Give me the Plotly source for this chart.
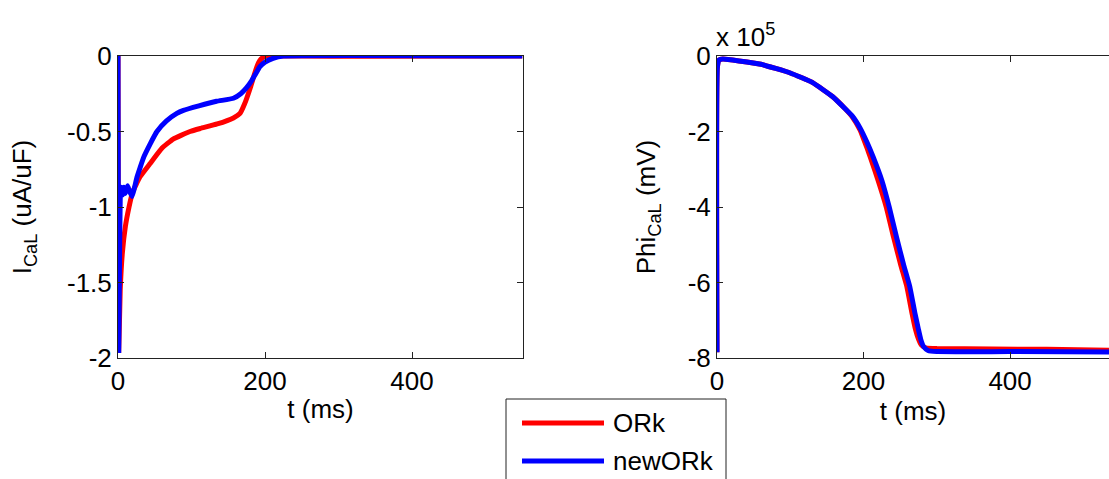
import plotly.graph_objects as go

# ---- L-type calcium current I_CaL (uA/uF) ----
t_ical_ork = [0, 1, 3, 6, 10, 15, 20, 30, 44, 60, 75, 98, 112, 135, 157, 166, 172, 180, 185, 189, 193, 197, 202, 210, 250, 330, 550]
ical_ork = [0, -1.95, -1.55, -1.3, -1.13, -1.0, -0.9, -0.8, -0.71, -0.61, -0.55, -0.5, -0.48, -0.45, -0.41, -0.38, -0.32, -0.21, -0.13, -0.07, -0.03, -0.01, 0, 0, 0, -0.002, 0]

t_ical_new = [0, 1, 2, 3, 4, 6, 8, 10, 13, 16, 19, 22, 26, 30, 35, 44, 53, 66, 80, 89, 110, 134, 157, 167, 175, 181, 187, 193, 200, 211, 225, 550]
ical_new = [0, -1.95, -1.4, -0.95, -0.87, -0.92, -0.87, -0.91, -0.86, -0.9, -0.93, -0.88, -0.8, -0.74, -0.67, -0.58, -0.5, -0.43, -0.38, -0.36, -0.33, -0.3, -0.28, -0.25, -0.21, -0.17, -0.12, -0.07, -0.04, -0.015, 0, 0]

# ---- Phi_CaL (units of 1e5 mV) ----
t_phi_ork = [0, 0.5, 3, 8, 30, 60, 100, 130, 158, 175, 185, 195, 205, 209, 220, 231, 241, 251, 259, 266, 271, 275, 279, 285, 300, 450, 550]
phi_ork_e5 = [-7.85, -0.3, -0.1, -0.08, -0.13, -0.22, -0.45, -0.7, -1.08, -1.4, -1.62, -1.95, -2.45, -2.67, -3.3, -4.0, -4.8, -5.55, -6.1, -6.8, -7.25, -7.5, -7.66, -7.73, -7.75, -7.77, -7.8]

t_phi_new = [0, 0.5, 3, 8, 30, 60, 100, 130, 158, 175, 185, 195, 205, 213, 225, 235, 245, 255, 263, 270, 275, 278, 282, 288, 300, 400, 550]
phi_new_e5 = [-7.85, -0.3, -0.1, -0.08, -0.13, -0.22, -0.45, -0.7, -1.08, -1.4, -1.6, -1.9, -2.3, -2.67, -3.3, -4.0, -4.8, -5.55, -6.1, -6.8, -7.25, -7.5, -7.7, -7.8, -7.83, -7.83, -7.84]

series_names = ["ORk", "newORk"]
series_colors = ["#ff0000", "#0000ff"]

ical_ticks = [-2, -1.5, -1, -0.5, 0]
ical_ticktext = ["-2", "-1.5", "-1", "-0.5", "0"]
phi_ticks_e5 = [-8, -6, -4, -2, 0]
phi_ticktext = ["-8", "-6", "-4", "-2", "0"]
t_ticks = [0, 200, 400]

W, H = 1109, 479
FONT = "Arial, Liberation Sans, sans-serif"
FS = 26
LW = 5


def curve(x, y, i, xa, ya):
    return go.Scatter(x=x, y=y, mode="lines", name=series_names[i],
                      line=dict(color=series_colors[i], width=LW, shape="spline", smoothing=0.4),
                      xaxis=xa, yaxis=ya, showlegend=False)


fig = go.Figure()
fig.add_trace(curve(t_ical_ork, ical_ork, 0, "x", "y"))
fig.add_trace(curve(t_ical_new, ical_new, 1, "x", "y"))
fig.add_trace(curve(t_phi_ork, [v * 1e5 for v in phi_ork_e5], 0, "x2", "y2"))
fig.add_trace(curve(t_phi_new, [v * 1e5 for v in phi_new_e5], 1, "x2", "y2"))

axis_common = dict(
    showgrid=False, zeroline=False, showline=True, linecolor="#222222", linewidth=1,
    ticks="inside", ticklen=6, tickcolor="#222222", automargin=False,
    tickfont=dict(family=FONT, size=FS, color="black"),
)

ydom = [1 - 358 / H, 1 - 56 / H]

fig.update_layout(
    width=W, height=H, autosize=False,
    margin=dict(l=0, r=0, t=0, b=0, autoexpand=False),
    paper_bgcolor="white", plot_bgcolor="white",
    font=dict(family=FONT, size=FS, color="black"),
    xaxis=dict(domain=[118 / W, 523 / W], range=[0, 551], tickvals=t_ticks, mirror="ticks",
               title=dict(text="t (ms)", font=dict(family=FONT, size=FS), standoff=4),
               anchor="y", **axis_common),
    yaxis=dict(domain=ydom, range=[-2, 0], tickvals=ical_ticks, ticktext=ical_ticktext, mirror="ticks",
               title=dict(text="I<sub>CaL</sub> (uA/uF)", font=dict(family=FONT, size=FS), standoff=27),
               anchor="x", **axis_common),
    xaxis2=dict(domain=[717 / W, 1.0], range=[0, 535], tickvals=t_ticks, mirror="ticks",
                title=dict(text="t (ms)", font=dict(family=FONT, size=FS), standoff=4),
                anchor="y2", **axis_common),
    yaxis2=dict(domain=ydom, range=[-8e5, 0], tickvals=[v * 1e5 for v in phi_ticks_e5], ticktext=phi_ticktext,
                mirror=False,
                title=dict(text="Phi<sub>CaL</sub> (mV)", font=dict(family=FONT, size=FS), standoff=24),
                anchor="x2", **axis_common),
    showlegend=False,
)

# exponent label above the right-hand axis
fig.add_annotation(x=714 / W, y=1 - 36 / H, xref="paper", yref="paper", xanchor="left", yanchor="middle",
                   text="x 10<sup>5</sup>", showarrow=False, font=dict(family=FONT, size=FS, color="black"))

# legend box drawn below the two panels
lx0, lx1 = 506 / W, 726 / W
fig.add_shape(type="rect", xref="paper", yref="paper", x0=lx0, x1=lx1, y0=-0.1, y1=1 - 399 / H,
              line=dict(color="#222222", width=1), fillcolor="white", layer="above")
for i, (name, color) in enumerate(zip(series_names, series_colors)):
    yy = 1 - (423 + 38 * i) / H
    fig.add_shape(type="line", xref="paper", yref="paper", x0=522 / W, x1=604 / W, y0=yy, y1=yy,
                  line=dict(color=color, width=LW), layer="above")
    fig.add_annotation(x=611 / W, y=yy, xref="paper", yref="paper", xanchor="left", yanchor="middle",
                       text=name, showarrow=False, font=dict(family=FONT, size=FS, color="black"))

fig.write_html("out.html")
